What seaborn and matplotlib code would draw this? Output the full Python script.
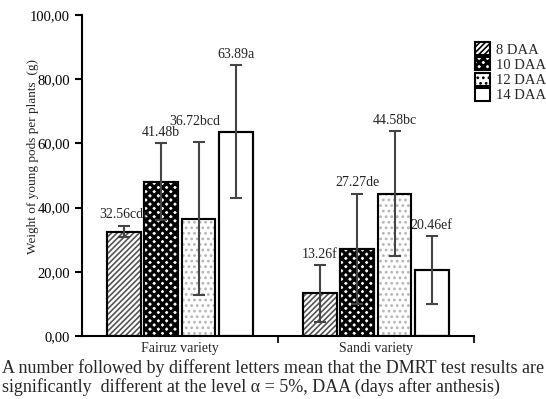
import seaborn as sns
import matplotlib.pyplot as plt
import pandas as pd
from matplotlib.ticker import FuncFormatter, FixedLocator

# values
varieties = ["Fairuz variety", "Sandi variety"]
stages = ["8 DAA", "10 DAA", "12 DAA", "14 DAA"]
fairuz_mean = [32.5, 48.1, 36.5, 63.6]
sandi_mean = [13.3, 27.2, 44.4, 20.6]
fairuz_low = [30.9, 36.1, 12.8, 43.1]
fairuz_high = [34.4, 60.2, 60.5, 84.4]
sandi_low = [4.3, 10.0, 25.0, 9.9]
sandi_high = [22.0, 44.4, 63.9, 31.2]
fairuz_labels = ["32.56cde", "41.48b", "36.72bcd", "63.89a"]
sandi_labels = ["13.26f", "27.27de", "44.58bc", "20.46ef"]

df = pd.DataFrame({
    "variety": [varieties[0]] * 4 + [varieties[1]] * 4,
    "stage": stages * 2,
    "weight": fairuz_mean + sandi_mean,
    "low": fairuz_low + sandi_low,
    "high": fairuz_high + sandi_high,
    "label": fairuz_labels + sandi_labels,
})

sns.set_theme(style="ticks")
plt.rcParams["font.family"] = ["Liberation Serif", "DejaVu Serif"]
plt.rcParams["hatch.linewidth"] = 1.2

fig = plt.figure(figsize=(5.46, 3.99), dpi=100)
ax = fig.add_axes([0.150, 0.158, 0.718, 0.804])

sns.barplot(data=df, x="variety", y="weight", hue="stage", order=varieties,
            hue_order=stages, errorbar=None, width=0.76, gap=0.09,
            palette=["white"] * 4, edgecolor="black", linewidth=1.5, ax=ax)

bars = list(ax.containers)
# hatch, hatch colour, hatch width for each stage
hatches = ["//////", "xxxx", "...", ""]
hcolors = ["#555555", "black", "#b5b5b5", "black"]
hwidths = [1.2, 2.3, 1.2, 1.2]


def style(p, h, hc, hw):
    p.set_facecolor("white")
    p.set_hatch(h)
    p.set_edgecolor(hc)
    if hasattr(p, "set_hatch_linewidth"):
        p.set_hatch_linewidth(hw)


for cont, h, hc, hw in zip(bars, hatches, hcolors, hwidths):
    for p in cont:
        style(p, h, hc, hw)
        # outline on top
        ax.add_patch(plt.Rectangle(p.get_xy(), p.get_width(), p.get_height(),
                                   fill=False, edgecolor="black", linewidth=1.5, zorder=3))

# error bars and letters
for j, cont in enumerate(bars):
    for i, p in enumerate(cont):
        row = df[(df.variety == varieties[i]) & (df.stage == stages[j])].iloc[0]
        xc = p.get_x() + p.get_width() / 2
        ax.errorbar(xc, row.weight, yerr=[[row.weight - row.low], [row.high - row.weight]],
                    fmt="none", ecolor="#444444", elinewidth=1.5, capsize=4.5,
                    capthick=1.5, zorder=4)
        dx, dy = (-3, 10) if row.label == "36.72bcd" else (0, 3)
        ax.annotate(row.label, (xc, row.high), xytext=(dx, dy), textcoords="offset points",
                    ha="center", va="bottom", fontsize=10, color="#222222")

ax.set_ylim(0, 100)
ax.set_xlim(-0.5, 1.5)
ax.set_yticks([0, 20, 40, 60, 80, 100])
ax.yaxis.set_major_formatter(FuncFormatter(lambda v, _: f"{v:.2f}".replace(".", ",")))
ax.tick_params(axis="y", length=5, width=1.5, labelsize=10.5, colors="black")
ax.tick_params(axis="x", length=0, labelsize=10, pad=4)
ax.xaxis.set_minor_locator(FixedLocator([0.5, 1.5]))
ax.tick_params(axis="x", which="minor", length=5, width=1.5)
sns.despine(ax=ax)
for s in ["left", "bottom"]:
    ax.spines[s].set_linewidth(1.5)
    ax.spines[s].set_color("black")
ax.set_xlabel("")
ax.set_ylabel("Weight of young pods per plants  (g)", fontsize=9.5, labelpad=12)
ax.yaxis.set_label_coords(-0.11, 0.558)

leg = ax.legend(loc="upper left", bbox_to_anchor=(0.857, 0.913), bbox_transform=fig.transFigure,
                frameon=False, fontsize=10.5, handlelength=1.0, handleheight=1.0,
                handletextpad=0.4, labelspacing=0.05, borderpad=0)
for hp, h, hc, hw in zip(leg.get_patches(), hatches, hcolors, hwidths):
    style(hp, h, hc, hw)
    hp.set_edgecolor("black")
    hp.set_linewidth(1.5)

fig.text(0.004, 0.078, "A number followed by different letters mean that the DMRT test results are",
         fontsize=13, va="center")
fig.text(0.004, 0.030, "significantly  different at the level \u03b1 = 5%, DAA (days after anthesis)",
         fontsize=13, va="center")

fig.savefig("out.png", dpi=100)
